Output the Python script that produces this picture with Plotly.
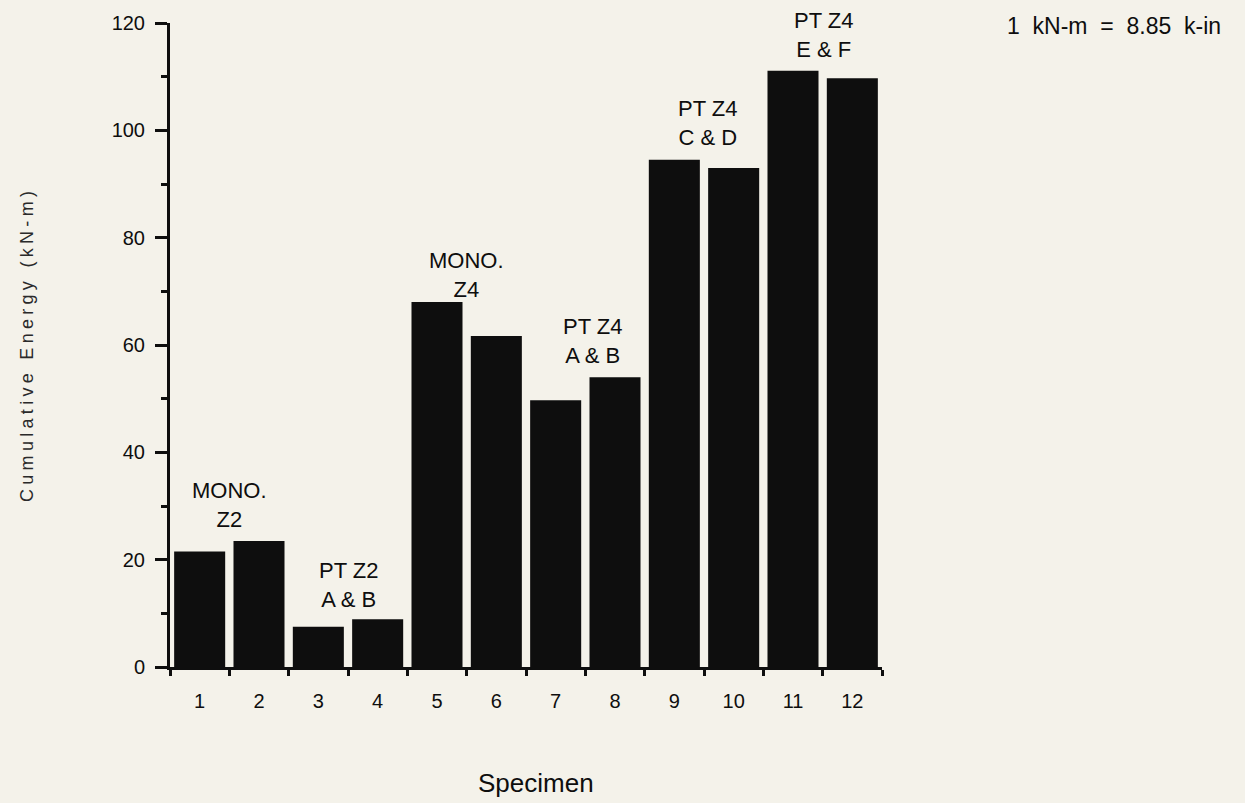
import plotly.graph_objects as go

specimens = [1, 2, 3, 4, 5, 6, 7, 8, 9, 10, 11, 12]
energy = [21.5, 23.5, 7.5, 8.9, 68.0, 61.7, 49.7, 54.0, 94.5, 93.0, 111.1, 109.7]
group_labels = ["MONO.<br>Z2", "PT Z2<br>A & B", "MONO.<br>Z4", "PT Z4<br>A & B", "PT Z4<br>C & D", "PT Z4<br>E & F"]
group_x = [1.5, 3.52, 5.5, 7.63, 9.57, 11.53]
group_y = [30.1, 15.2, 73.0, 60.8, 101.3, 117.7]
y_ticks = [0, 20, 40, 60, 80, 100, 120]

FONT = "Liberation Sans, Arial, Helvetica, sans-serif"
INK = "#0e0e0e"
BG = "#f4f2ea"

W, H = 1245, 803
L, R, T, B = 170, 363, 23, 136
pw, ph = W - L - R, H - T - B


def px(x):
    return (x - L) / pw


def py(y):
    return 1 - (y - T) / ph


fig = go.Figure()
fig.add_trace(go.Bar(x=specimens, y=energy, marker=dict(color=INK, line=dict(width=0)),
                     width=0.86, hoverinfo="x+y"))

for t, gx, gy in zip(group_labels, group_x, group_y):
    fig.add_annotation(x=gx, y=gy, xref="x", yref="y", text=t, showarrow=False,
                       xanchor="center", yanchor="middle",
                       font=dict(family=FONT, size=22, color=INK), align="center")

fig.add_annotation(x=px(1223), y=py(26), xref="paper", yref="paper",
                   text="1  kN-m  =  8.85  k-in", xanchor="right", yanchor="middle",
                   showarrow=False, font=dict(family=FONT, size=23, color=INK))
fig.add_annotation(x=px(536), y=py(783), xref="paper", yref="paper", text="Specimen",
                   xanchor="center", yanchor="middle",
                   showarrow=False, font=dict(family=FONT, size=26, color=INK))
fig.add_annotation(x=px(27), y=py(345), xref="paper", yref="paper",
                   text='<span style="letter-spacing:4.3px">Cumulative Energy (kN-m)</span>',
                   xanchor="center", yanchor="middle",
                   showarrow=False, textangle=-90, font=dict(family=FONT, size=18, color="#2a2a2a"))

fig.update_layout(
    width=W, height=H,
    margin=dict(l=L, r=R, t=T, b=B),
    paper_bgcolor=BG, plot_bgcolor=BG,
    showlegend=False,
    font=dict(family=FONT, size=20, color=INK),
    xaxis=dict(range=[0.5, 12.5], tickmode="array", tickvals=specimens,
               ticktext=[str(s) for s in specimens], ticks="", showgrid=False,
               zeroline=False, showline=True, linecolor=INK, linewidth=2.5,
               ticklabelstandoff=14,
               minor=dict(tickmode="array", tickvals=[i + 0.5 for i in range(0, 13)],
                          ticks="outside", ticklen=6, tickwidth=2.5, tickcolor=INK, showgrid=False),
               tickfont=dict(family=FONT, size=20, color=INK)),
    yaxis=dict(range=[0, 120], tickmode="array", tickvals=y_ticks, ticks="outside",
               ticklen=12, tickwidth=3, tickcolor=INK, showgrid=False, zeroline=False,
               showline=True, linecolor=INK, linewidth=3, ticklabelstandoff=6,
               minor=dict(tickmode="array", tickvals=[10, 30, 50, 70, 90, 110],
                          ticks="outside", ticklen=6, tickwidth=2.5, tickcolor=INK, showgrid=False),
               tickfont=dict(family=FONT, size=20, color=INK)),
)

fig.write_html("out.html", config={"displayModeBar": False},
               post_script="document.body.style.margin='0';document.body.style.background='" + BG + "';")
